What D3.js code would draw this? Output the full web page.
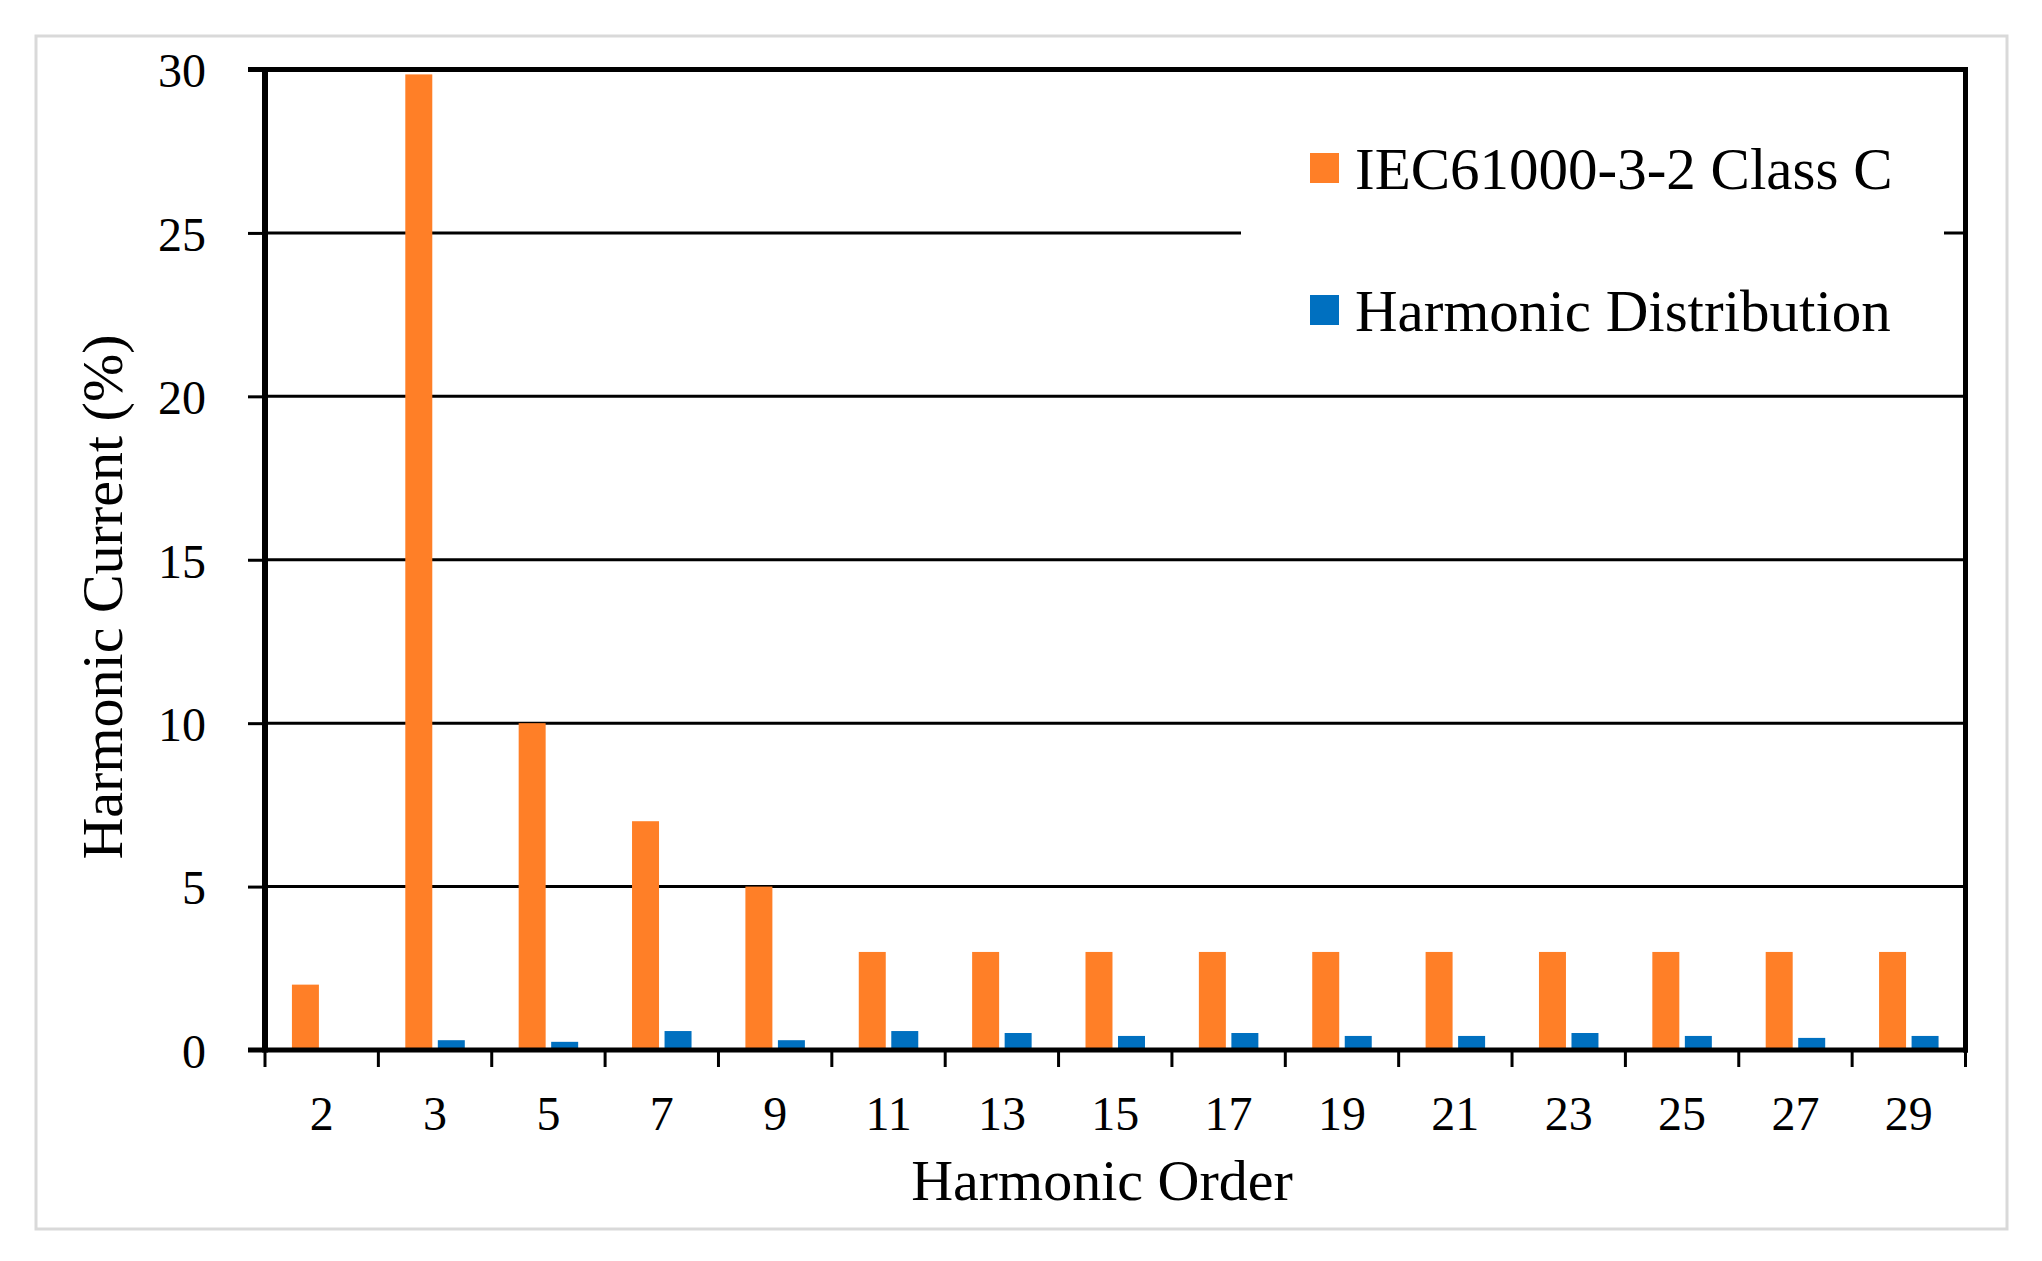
<!DOCTYPE html>
<html>
<head>
<meta charset="utf-8">
<script src="https://cdn.jsdelivr.net/npm/d3@7"></script>
<style>
  html, body { margin: 0; padding: 0; background: #ffffff; }
  svg { display: block; }
  text { font-family: "Liberation Serif", "Times New Roman", serif; fill: #000; }
</style>
</head>
<body>
<svg id="chart" width="2042" height="1261"></svg>
<script>
// ---- data ----
const categories = ["2", "3", "5", "7", "9", "11", "13", "15", "17", "19", "21", "23", "25", "27", "29"];
const seriesNames = ["IEC61000-3-2 Class C", "Harmonic Distribution"];
const iecLimits = [2, 29.85, 10, 7, 5, 3, 3, 3, 3, 3, 3, 3, 3, 3, 3];
const harmonicDist = [0, 0.3, 0.25, 0.58, 0.3, 0.58, 0.52, 0.43, 0.52, 0.43, 0.43, 0.52, 0.43, 0.37, 0.43];
const yTicks = [0, 5, 10, 15, 20, 25, 30];
const seriesColors = ["#FF7F27", "#0070C0"];
const xTitle = "Harmonic Order";
const yTitle = "Harmonic Current (%)";

// ---- layout ----
const svg = d3.select("#chart");
const plot = { left: 265, right: 1965.5, top: 69.5, bottom: 1050 };

// outer light border
svg.append("rect")
  .attr("x", 36).attr("y", 36).attr("width", 1971).attr("height", 1193)
  .attr("fill", "#fff").attr("stroke", "#d9d9d9").attr("stroke-width", 3);

const x0 = d3.scaleBand().domain(categories).range([plot.left, plot.right]).paddingInner(0).paddingOuter(0);
const bw = x0.bandwidth();
const x1 = d3.scaleBand().domain(seriesNames).range([bw / 2 - 29.75, bw / 2 + 29.75]).paddingInner(0.17);
const y = d3.scaleLinear().domain([0, 30]).range([plot.bottom, plot.top]);

// gridlines
svg.append("g").selectAll("line")
  .data(yTicks.filter(d => d > 0 && d < 30))
  .join("line")
  .attr("x1", plot.left).attr("x2", plot.right)
  .attr("y1", d => y(d)).attr("y2", d => y(d))
  .attr("stroke", "#000").attr("stroke-width", 3);

// bars
const rows = categories.map((c, i) => ({ cat: c, vals: [iecLimits[i], harmonicDist[i]] }));
const groups = svg.append("g").selectAll("g")
  .data(rows).join("g")
  .attr("transform", d => `translate(${x0(d.cat)},0)`);
groups.selectAll("rect")
  .data(d => d.vals.map((v, k) => ({ name: seriesNames[k], v, k })))
  .join("rect")
  .attr("x", d => x1(d.name))
  .attr("width", x1.bandwidth())
  .attr("y", d => y(d.v))
  .attr("height", d => y(0) - y(d.v))
  .attr("fill", d => seriesColors[d.k]);

// legend (white box covering gridline)
const legend = svg.append("g");
legend.append("rect")
  .attr("x", 1241).attr("y", 100).attr("width", 703).attr("height", 270)
  .attr("fill", "#fff");
const legendRows = [
  { name: seriesNames[0], color: seriesColors[0], base: 189 },
  { name: seriesNames[1], color: seriesColors[1], base: 331 }
];
legendRows.forEach(r => {
  legend.append("rect")
    .attr("x", 1310).attr("y", r.base - 36).attr("width", 29).attr("height", 30)
    .attr("fill", r.color);
  legend.append("text")
    .attr("x", 1355).attr("y", r.base)
    .attr("font-size", 59)
    .text(r.name);
});

// y axis
const yAxis = d3.axisLeft(y).tickValues(yTicks).tickSize(17).tickPadding(42).tickFormat(d3.format("d"));
const gy = svg.append("g").attr("transform", `translate(${plot.left},0)`).call(yAxis);
gy.select(".domain").remove();
gy.selectAll(".tick line").attr("stroke", "#000").attr("stroke-width", 3);
gy.selectAll(".tick text")
  .attr("font-size", 48)
  .attr("font-family", "Liberation Serif, Times New Roman, serif")
  .attr("dy", "0.36em");

// x axis
const xAxis = d3.axisBottom(x0).tickSize(0).tickPadding(0);
const gx = svg.append("g").attr("transform", `translate(0,${plot.bottom})`).call(xAxis);
gx.select(".domain").remove();
gx.selectAll(".tick text")
  .attr("font-size", 48)
  .attr("font-family", "Liberation Serif, Times New Roman, serif")
  .attr("dy", 0)
  .attr("y", 80);
// x ticks at band boundaries
const bounds = categories.map(c => x0(c)).concat([plot.right]);
svg.append("g").selectAll("line")
  .data(bounds).join("line")
  .attr("x1", d => d).attr("x2", d => d)
  .attr("y1", plot.bottom).attr("y2", plot.bottom + 17)
  .attr("stroke", "#000").attr("stroke-width", 3);

// frame
svg.append("line").attr("x1", plot.left).attr("x2", plot.left)
  .attr("y1", plot.top - 2.5).attr("y2", plot.bottom + 2.5)
  .attr("stroke", "#000").attr("stroke-width", 6);
svg.append("line").attr("x1", plot.right).attr("x2", plot.right)
  .attr("y1", plot.top - 2.5).attr("y2", plot.bottom + 2.5)
  .attr("stroke", "#000").attr("stroke-width", 5);
svg.append("line").attr("x1", plot.left - 17).attr("x2", plot.right + 2.5)
  .attr("y1", plot.top).attr("y2", plot.top)
  .attr("stroke", "#000").attr("stroke-width", 5);
svg.append("line").attr("x1", plot.left - 17).attr("x2", plot.right + 2.5)
  .attr("y1", plot.bottom).attr("y2", plot.bottom)
  .attr("stroke", "#000").attr("stroke-width", 5);

// axis titles
svg.append("text")
  .attr("x", 1102).attr("y", 1200)
  .attr("text-anchor", "middle")
  .attr("font-size", 58)
  .text(xTitle);
svg.append("text")
  .attr("transform", "translate(122,597) rotate(-90)")
  .attr("text-anchor", "middle")
  .attr("font-size", 58)
  .text(yTitle);
</script>
</body>
</html>
